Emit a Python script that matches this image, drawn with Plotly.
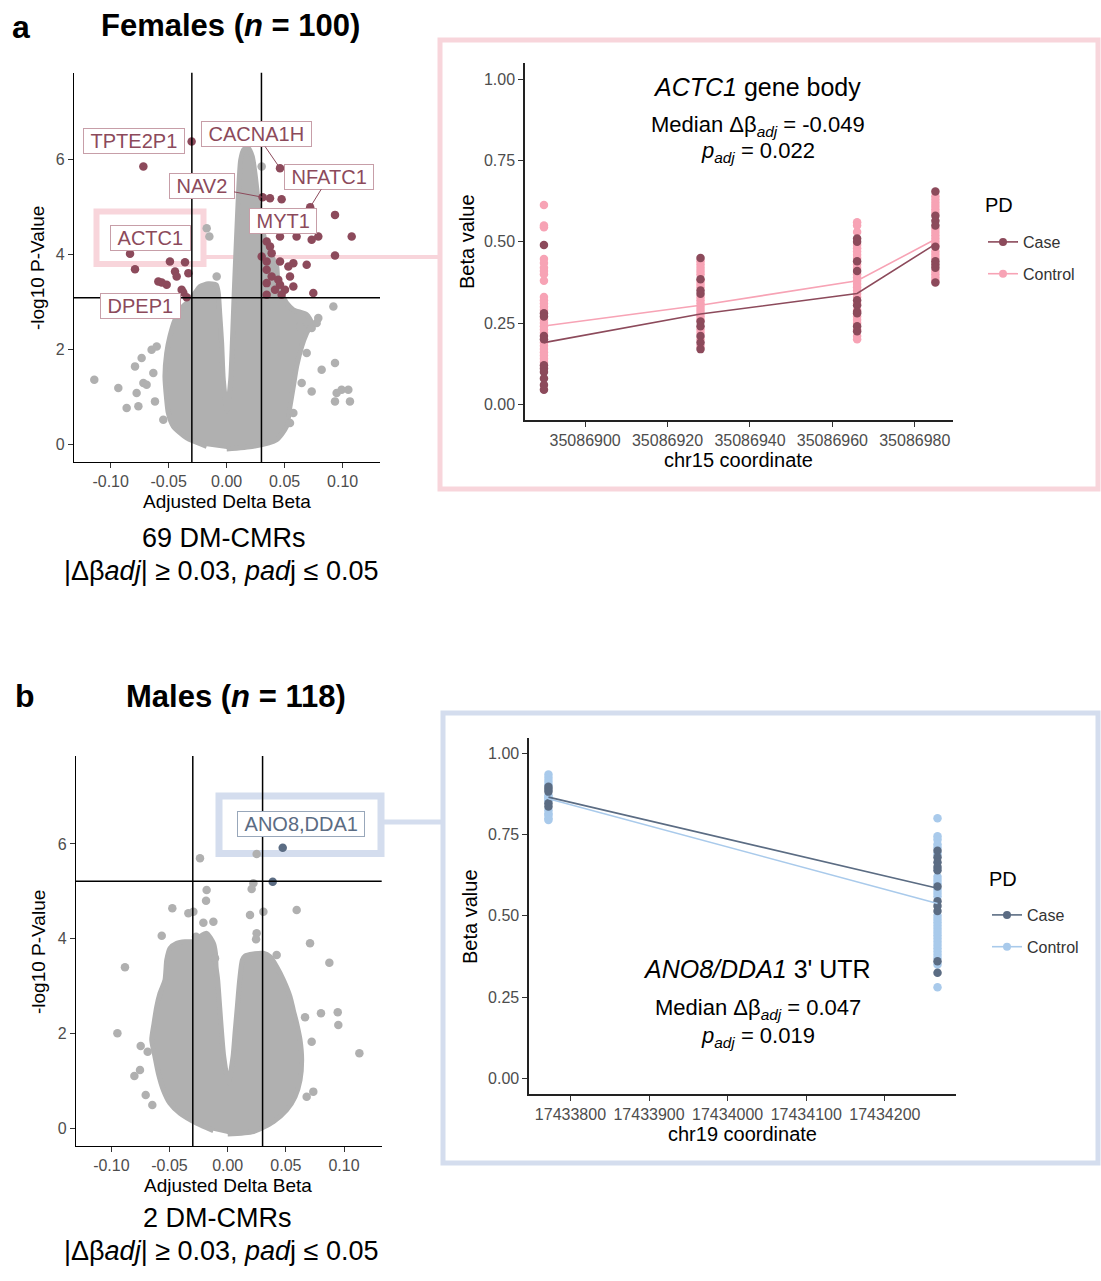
import plotly.graph_objects as go

W, H = 1101, 1281
def px(x): return x / W
def py(y): return 1 - y / H

# ---------------- DATA ----------------
delta_thr = 0.03
fem_p_thr = 3.09
male_p_thr = 5.21

vol_tickvals = [-0.10, -0.05, 0.00, 0.05, 0.10]
vol_ticktext = ["-0.10", "-0.05", "0.00", "0.05", "0.10"]
vol_ytick = [0, 2, 4, 6]
beta_ticks = [0.00, 0.25, 0.50, 0.75, 1.00]
beta_ticktext = ["0.00", "0.25", "0.50", "0.75", "1.00"]

# Females volcano: outline of the dense grey cloud
fem_cloud_x = [0.0, 0.023, 0.0431, 0.0517, 0.0546, 0.0575, 0.0603, 0.0647, 0.069, 0.0733,
               0.069, 0.0575, 0.0517, 0.0489, 0.0445, 0.0431, 0.0345, 0.0316, 0.0287, 0.0264,
               0.0244, 0.0221, 0.0187, 0.0149, 0.0121, 0.0105, 0.0092, 0.0077, 0.0063, 0.0049,
               0.0035, 0.0003, -0.0029, -0.0043, -0.0060, -0.0072, -0.0090, -0.0158, -0.0230,
               -0.0273, -0.0316, -0.0388, -0.0445, -0.0489, -0.0517, -0.0532, -0.0517, -0.0503,
               -0.0460, -0.0345, -0.0172]
fem_cloud_y = [-0.105, -0.049, 0.091, 0.373, 0.795, 1.217, 1.639, 2.061, 2.342, 2.553,
               2.729, 2.834, 2.975, 3.094, 3.256, 3.748, 4.170, 4.451, 4.803, 5.295,
               5.717, 6.069, 6.245, 6.224, 5.999, 5.436, 4.733, 3.889, 3.045, 2.131,
               1.357, 0.700, 1.357, 2.131, 2.764, 3.186, 3.361, 3.383, 3.326,
               3.186, 3.045, 2.869, 2.623, 2.271, 1.920, 1.428, 0.935, 0.654,
               0.373, 0.127, -0.049]
# Females volcano: isolated grey points
fem_grey_x = [-0.1141, -0.0934, -0.0862, -0.0761, -0.0776, -0.0790, -0.0733, -0.0718, -0.0690,
              -0.0632, -0.0618, -0.0647, -0.0603, -0.0546, -0.0868, -0.0713, -0.0172, -0.0149,
              -0.0086, 0.0302, 0.0920, 0.0790, 0.0733, 0.0776, 0.0632, 0.0819, 0.0934, 0.0647,
              0.0733, 0.0948, 0.0991, 0.1049, 0.0934, 0.1063, 0.0690, 0.0546, 0.0575]
fem_grey_y = [1.357, 1.181, 0.759, 0.795, 1.076, 1.639, 1.814, 1.287, 1.252,
              1.498, 0.900, 1.990, 2.061, 0.513, 2.799, 2.750, 4.557, 4.381,
              3.537, 5.858, 2.904, 2.658, 2.447, 2.553, 2.482, 1.568, 1.709, 1.287,
              1.111, 1.076, 1.146, 1.146, 0.900, 0.900, 1.920, 0.443, 0.654]
# Females volcano: DM-CMRs
fem_sig_x = [-0.0302, -0.0718, -0.0833, -0.0790, -0.0489, -0.0359, -0.0445, -0.0431, -0.0330,
             -0.0589, -0.0517, -0.0560, -0.0374, -0.0345, -0.0388, 0.0460, 0.0310, 0.0374,
             0.0474, 0.0934, 0.1078, 0.0934, 0.0345, 0.0374, 0.0388, 0.0345, 0.0460, 0.0532,
             0.0575, 0.0690, 0.0345, 0.0388, 0.0445, 0.0460, 0.0345, 0.0417, 0.0503, 0.0575,
             0.0474, 0.0345, 0.0747, 0.0603, 0.0733, 0.0790, 0.0460, 0.0546, 0.0302, 0.0720]
fem_sig_y = [6.385, 5.858, 4.015, 3.692, 3.854, 3.840, 3.643, 3.537, 3.608,
             3.432, 3.361, 3.411, 3.200, 3.101, 3.256, 5.823, 5.211, 5.190,
             5.169, 4.838, 4.381, 3.980, 4.276, 4.170, 4.030, 3.854, 3.854, 3.748,
             3.819, 3.783, 3.678, 3.537, 3.467, 3.361, 3.397, 3.256, 3.256, 3.326,
             3.150, 3.150, 3.186, 4.381, 4.311, 4.381, 4.381, 3.537, 3.959, 5.000]

# Males volcano: outline of the dense grey cloud
male_cloud_x = [0.0, 0.0221, 0.0393, 0.0507, 0.0579, 0.0622, 0.0636, 0.0622, 0.0593, 0.0564,
                0.0536, 0.0479, 0.0421, 0.0364, 0.0307, 0.0221, 0.0149, 0.0126, 0.0103, 0.0083,
                0.0063, 0.0046, 0.0006, -0.0034, -0.0052, -0.0069, -0.0086, -0.0100, -0.0105,
                -0.0123, -0.0181, -0.0238, -0.0295, -0.0367, -0.0438, -0.0496, -0.0524, -0.0539,
                -0.0582, -0.0610, -0.0633, -0.0653, -0.0625, -0.0596, -0.0553, -0.0496, -0.0410,
                -0.0266, -0.0123]
male_cloud_y = [-0.120, -0.070, 0.141, 0.387, 0.668, 1.020, 1.442, 1.864, 2.215, 2.496,
                2.778, 3.129, 3.411, 3.622, 3.692, 3.678, 3.636, 3.551, 3.129, 2.567,
                2.004, 1.512, 0.950, 1.512, 2.004, 2.567, 3.129, 3.411, 3.692,
                3.903, 4.114, 4.044, 3.938, 3.938, 3.903, 3.797, 3.551, 3.129,
                2.848, 2.567, 2.215, 1.864, 1.512, 1.160, 0.809, 0.527, 0.316,
                0.105, -0.049]
male_grey_x = [-0.0948, -0.0883, -0.0705, -0.0648, -0.0802, -0.0754, -0.0748, -0.0688, -0.0567,
               -0.0476, -0.0338, -0.0295, -0.0238, -0.0181, -0.0186, -0.0209, -0.0123, -0.0272,
               -0.0109, 0.0249, 0.0221, 0.0206, 0.0192, 0.0307, 0.0249, 0.0244, 0.0593, 0.0708,
               0.0874, 0.0421, 0.0665, 0.0802, 0.0946, 0.0951, 0.0722, 0.1132, 0.0736, 0.0679]
male_grey_y = [2.004, 3.397, 0.703, 0.492, 1.104, 1.231, 1.737, 1.617, 4.065,
               4.641, 4.536, 4.571, 5.696, 5.028, 4.803, 4.339, 4.360, 4.044,
               3.586, 5.788, 5.169, 5.049, 4.501, 4.571, 4.114, 3.987, 4.606, 3.903,
               3.495, 3.657, 2.342, 2.426, 2.447, 2.180, 1.828, 1.582, 0.774, 0.668]
male_sig_x = [0.0473, 0.0387]
male_sig_y = [5.92, 5.20]

# ACTC1 gene body (chr15)
fem_pos = [35086890, 35086928, 35086966, 35086985]
fem_case_vals = [
    [0.49, 0.28, 0.27, 0.21, 0.20, 0.12, 0.11, 0.10, 0.08, 0.06, 0.045],
    [0.45, 0.385, 0.35, 0.34, 0.255, 0.24, 0.21, 0.19, 0.17],
    [0.51, 0.50, 0.44, 0.41, 0.32, 0.305, 0.285, 0.28, 0.24, 0.225],
    [0.655, 0.58, 0.565, 0.55, 0.485, 0.44, 0.43, 0.42, 0.375],
]
fem_ctrl_vals = [
    [0.613, 0.55, 0.545, 0.447, 0.435, 0.42, 0.41, 0.40, 0.38, 0.33, 0.32, 0.31, 0.30, 0.29, 0.26,
     0.25, 0.24, 0.23, 0.22, 0.19, 0.18, 0.17, 0.16, 0.15, 0.14, 0.13],
    [0.44, 0.43, 0.42, 0.41, 0.40, 0.38, 0.37, 0.36, 0.33, 0.32, 0.31, 0.30, 0.29, 0.28, 0.27, 0.26,
     0.23, 0.22, 0.20, 0.18],
    [0.56, 0.55, 0.53, 0.49, 0.48, 0.47, 0.46, 0.45, 0.43, 0.42, 0.40, 0.39, 0.38, 0.37, 0.36, 0.35,
     0.34, 0.33, 0.31, 0.29, 0.27, 0.26, 0.25, 0.23, 0.21, 0.20],
    [0.64, 0.63, 0.62, 0.61, 0.60, 0.59, 0.54, 0.53, 0.52, 0.51, 0.50, 0.49, 0.47, 0.46, 0.45,
     0.41, 0.40, 0.39, 0.38],
]
fem_case_med = [0.190, 0.278, 0.341, 0.493]
fem_ctrl_med = [0.241, 0.305, 0.380, 0.508]
fem_xticks = [35086900, 35086920, 35086940, 35086960, 35086980]

# ANO8/DDA1 3' UTR (chr19)
male_pos = [17433772, 17434267]
male_case_vals = [
    [0.897, 0.89, 0.882, 0.846, 0.836],
    [0.70, 0.68, 0.665, 0.65, 0.64, 0.59, 0.545, 0.53, 0.515, 0.36, 0.325],
]
male_ctrl_vals = [
    [0.935, 0.925, 0.915, 0.905, 0.87, 0.865, 0.86, 0.855, 0.825, 0.815, 0.81, 0.80, 0.795],
    [0.80, 0.745, 0.735, 0.72, 0.71, 0.69, 0.62, 0.61, 0.60, 0.58, 0.57, 0.56, 0.50, 0.49, 0.48,
     0.47, 0.46, 0.45, 0.44, 0.43, 0.42, 0.41, 0.40, 0.39, 0.38, 0.37, 0.35, 0.28],
]
male_case_med = [0.865, 0.585]
male_ctrl_med = [0.860, 0.538]
male_xticks = [17433800, 17433900, 17434000, 17434100, 17434200]

groups = ["Case", "Control"]

# ---------------- STYLE ----------------
FONT = "Liberation Sans, Arial, Helvetica, sans-serif"
F_CASE, F_CTRL = "#8C4A5B", "#F7A3B5"
M_CASE, M_CTRL = "#5B6C83", "#A9CAEB"
GREY = "#B0B0B0"
PINK_FR, BLUE_FR = "#F8D5DB", "#D4DDEE"

fig = go.Figure()

def flat(pos, vals):
    xs, ys = [], []
    for p, vs in zip(pos, vals):
        xs += [p] * len(vs)
        ys += vs
    return xs, ys

# volcano a
fig.add_trace(go.Scatter(x=fem_cloud_x, y=fem_cloud_y, mode="lines", fill="toself",
                         fillcolor=GREY, line=dict(color=GREY, width=5, shape="spline", smoothing=0.6),
                         showlegend=False, xaxis="x", yaxis="y", hoverinfo="skip"))
fig.add_trace(go.Scatter(x=fem_grey_x, y=fem_grey_y, mode="markers",
                         marker=dict(color=GREY, size=8.5), showlegend=False, xaxis="x", yaxis="y"))
fig.add_trace(go.Scatter(x=fem_sig_x, y=fem_sig_y, mode="markers",
                         marker=dict(color=F_CASE, size=8.5), showlegend=False, xaxis="x", yaxis="y"))
# volcano b
fig.add_trace(go.Scatter(x=male_cloud_x, y=male_cloud_y, mode="lines", fill="toself",
                         fillcolor=GREY, line=dict(color=GREY, width=5, shape="spline", smoothing=0.6),
                         showlegend=False, xaxis="x3", yaxis="y3", hoverinfo="skip"))
fig.add_trace(go.Scatter(x=male_grey_x, y=male_grey_y, mode="markers",
                         marker=dict(color=GREY, size=8.5), showlegend=False, xaxis="x3", yaxis="y3"))
fig.add_trace(go.Scatter(x=male_sig_x, y=male_sig_y, mode="markers",
                         marker=dict(color=M_CASE, size=8.5), showlegend=False, xaxis="x3", yaxis="y3"))

# inset a
for vals, col in [(fem_ctrl_vals, F_CTRL), (fem_case_vals, F_CASE)]:
    xs, ys = flat(fem_pos, vals)
    fig.add_trace(go.Scatter(x=xs, y=ys, mode="markers", marker=dict(color=col, size=8.5),
                             showlegend=False, xaxis="x2", yaxis="y2"))
for med, col in [(fem_ctrl_med, F_CTRL), (fem_case_med, F_CASE)]:
    fig.add_trace(go.Scatter(x=fem_pos, y=med, mode="lines", line=dict(color=col, width=1.6),
                             showlegend=False, xaxis="x2", yaxis="y2"))
for g, col in zip(groups, [F_CASE, F_CTRL]):
    fig.add_trace(go.Scatter(x=[None], y=[None], mode="lines+markers", name=g,
                             line=dict(color=col, width=1.6), marker=dict(color=col, size=8),
                             legend="legend", legendgroup="f" + g, xaxis="x2", yaxis="y2"))
# inset b
for vals, col in [(male_ctrl_vals, M_CTRL), (male_case_vals, M_CASE)]:
    xs, ys = flat(male_pos, vals)
    fig.add_trace(go.Scatter(x=xs, y=ys, mode="markers", marker=dict(color=col, size=8.5),
                             showlegend=False, xaxis="x4", yaxis="y4"))
for med, col in [(male_ctrl_med, M_CTRL), (male_case_med, M_CASE)]:
    fig.add_trace(go.Scatter(x=male_pos, y=med, mode="lines", line=dict(color=col, width=1.6),
                             showlegend=False, xaxis="x4", yaxis="y4"))
for g, col in zip(groups, [M_CASE, M_CTRL]):
    fig.add_trace(go.Scatter(x=[None], y=[None], mode="lines+markers", name=g,
                             line=dict(color=col, width=1.6), marker=dict(color=col, size=8),
                             legend="legend2", legendgroup="m" + g, xaxis="x4", yaxis="y4"))

def ax_style(lw, lc, **kw):
    d = dict(showline=True, linecolor=lc, linewidth=lw, ticks="outside", ticklen=5,
             tickwidth=1.1, tickcolor="#333333", showgrid=False, zeroline=False,
             tickfont=dict(size=16, color="#4D4D4D", family=FONT))
    d.update(kw)
    return d

layout = dict(
    width=W, height=H, autosize=False,
    margin=dict(l=0, r=0, t=0, b=0),
    paper_bgcolor="white", plot_bgcolor="rgba(0,0,0,0)",
    font=dict(family=FONT, color="black"),
    xaxis=ax_style(1.2, "black", domain=[px(74), px(380)], range=[-0.1316, 0.1322], anchor="y",
                   tickvals=vol_tickvals, ticktext=vol_ticktext),
    yaxis=ax_style(1.2, "black", domain=[py(462), py(72.7)], range=[-0.38, 7.84], anchor="x",
                   tickvals=vol_ytick),
    xaxis2=ax_style(1.5, "#222222", domain=[px(525), px(952.7)], range=[35086885.4, 35086989.2],
                    anchor="y2", tickvals=fem_xticks, ticktext=[str(v) for v in fem_xticks]),
    yaxis2=ax_style(1.5, "#222222", domain=[py(420), py(63.3)], range=[-0.048, 1.049], anchor="x2",
                    tickvals=beta_ticks, ticktext=beta_ticktext),
    xaxis3=ax_style(1.2, "black", domain=[px(76), px(381.7)], range=[-0.1304, 0.1324], anchor="y3",
                    tickvals=vol_tickvals, ticktext=vol_ticktext),
    yaxis3=ax_style(1.2, "black", domain=[py(1146), py(756)], range=[-0.373, 7.855], anchor="x3",
                    tickvals=vol_ytick),
    xaxis4=ax_style(1.5, "#222222", domain=[px(529.2), px(955.6)], range=[17433747.5, 17434290],
                    anchor="y4", tickvals=male_xticks, ticktext=[str(v) for v in male_xticks]),
    yaxis4=ax_style(1.5, "#222222", domain=[py(1094), py(738.3)], range=[-0.048, 1.046], anchor="x4",
                    tickvals=beta_ticks, ticktext=beta_ticktext),
    legend=dict(x=px(983), y=py(225), xanchor="left", yanchor="top",
                font=dict(size=16, color="#333333"), bgcolor="rgba(0,0,0,0)",
                traceorder="grouped", tracegroupgap=8, itemwidth=30),
    legend2=dict(x=px(987), y=py(898), xanchor="left", yanchor="top",
                 font=dict(size=16, color="#333333"), bgcolor="rgba(0,0,0,0)",
                 traceorder="grouped", tracegroupgap=8, itemwidth=30),
)
fig.update_layout(**layout)

# ---------------- SHAPES ----------------
shapes = []
def prect(x0, y0, x1, y1, col, w, layer="below"):
    shapes.append(dict(type="rect", xref="paper", yref="paper", x0=px(x0), x1=px(x1),
                       y0=py(y1), y1=py(y0), line=dict(color=col, width=w), layer=layer))
def pline(x0, y0, x1, y1, col, w, layer="below"):
    shapes.append(dict(type="line", xref="paper", yref="paper", x0=px(x0), x1=px(x1),
                       y0=py(y0), y1=py(y1), line=dict(color=col, width=w), layer=layer))

prect(440, 40, 1098, 489, PINK_FR, 5)
prect(443, 713, 1098, 1163, BLUE_FR, 5)
prect(96.5, 211.5, 203.5, 264, PINK_FR, 6)
pline(203.5, 257, 440, 257, PINK_FR, 4)
prect(219, 796, 381, 853.5, BLUE_FR, 7)
pline(381, 822, 443, 822, BLUE_FR, 5)

# threshold lines (data coordinates)
for xa, ya, pthr in [("x", "y", fem_p_thr), ("x3", "y3", male_p_thr)]:
    for v in (-delta_thr, delta_thr):
        shapes.append(dict(type="line", xref=xa, yref=ya + " domain", x0=v, x1=v, y0=0, y1=1,
                           line=dict(color="black", width=1.5), layer="above"))
    shapes.append(dict(type="line", xref=xa + " domain", yref=ya, x0=0, x1=1, y0=pthr, y1=pthr,
                       line=dict(color="black", width=1.5), layer="above"))
fig.update_layout(shapes=shapes)

# ---------------- ANNOTATIONS ----------------
anns = []
def txt(text, cx, cy, size, color="black", angle=0, bold=False, xanchor="center"):
    anns.append(dict(text=("<b>%s</b>" % text) if bold else text, x=px(cx), y=py(cy),
                     xref="paper", yref="paper", xanchor=xanchor, yanchor="middle",
                     showarrow=False, textangle=angle, font=dict(size=size, color=color, family=FONT)))

txt("a", 21, 27, 32, bold=True)
txt("Females (<i>n</i> = 100)", 230, 25, 31, bold=True)
txt("b", 25, 696, 32, bold=True)
txt("Males (<i>n</i> = 118)", 236, 696, 31, bold=True)

txt("69 DM-CMRs", 224, 538, 27)
txt("|Δβ<i>adj</i>| ≥ 0.03, <i>pad</i>j ≤ 0.05", 221, 571, 27)
txt("2 DM-CMRs", 217, 1218, 27)
txt("|Δβ<i>adj</i>| ≥ 0.03, <i>pad</i>j ≤ 0.05", 221, 1251, 27)

txt("Adjusted Delta Beta", 226.5, 501, 19)
txt("-log10 P-Value", 37, 268, 19, angle=-90)
txt("Adjusted Delta Beta", 227.5, 1185, 19)
txt("-log10 P-Value", 38, 952, 19, angle=-90)

txt("<i>ACTC1</i> gene body", 757, 87, 25)
txt("Median Δβ<sub><i>adj</i></sub> = -0.049", 758, 126, 22)
txt("<i>p</i><sub><i>adj</i></sub> = 0.022", 758, 152, 22)
txt("Beta value", 467, 242, 20, angle=-90)
txt("chr15 coordinate", 738, 460, 20)
txt("PD", 983, 205, 20, xanchor="left")

txt("<i>ANO8/DDA1</i> 3' UTR", 757, 969, 25)
txt("Median Δβ<sub><i>adj</i></sub> = 0.047", 758, 1009, 22)
txt("<i>p</i><sub><i>adj</i></sub> = 0.019", 758, 1037, 22)
txt("Beta value", 470, 917, 20, angle=-90)
txt("chr19 coordinate", 742, 1134, 20)
txt("PD", 987, 879, 20, xanchor="left")

F_LAB, F_LAB_BD = "#8C4A5B", "#C79EA8"
M_LAB, M_LAB_BD = "#5B6C83", "#98A7BA"
NB = "\u00a0"

def label(text, cx, cy, col, bd):
    anns.append(dict(text=NB + text + NB, x=px(cx), y=py(cy), xref="paper", yref="paper",
                     xanchor="center", yanchor="middle", showarrow=False,
                     borderpad=1, bordercolor=bd, borderwidth=1, bgcolor="white",
                     font=dict(size=20, color=col, family=FONT)))

def label_arrow(text, xa, ya, x, y, dx, dy, col, bd):
    anns.append(dict(text=NB + text + NB, x=x, y=y, xref=xa, yref=ya, ax=dx, ay=dy, showarrow=True,
                     arrowhead=0, arrowwidth=1, arrowcolor=col, standoff=0,
                     borderpad=1, bordercolor=bd, borderwidth=1, bgcolor="white",
                     font=dict(size=20, color=col, family=FONT)))

label("TPTE2P1", 133.8, 140.5, F_LAB, F_LAB_BD)
label_arrow("CACNA1H", "x", "y", 0.0460, 5.823, -23.5, -34.2, F_LAB, F_LAB_BD)
label_arrow("NAV2", "x", "y", 0.0310, 5.211, -61.1, -11.4, F_LAB, F_LAB_BD)
label_arrow("NFATC1", "x", "y", 0.0720, 5.000, 18.8, -30.5, F_LAB, F_LAB_BD)
label("MYT1", 283, 220.8, F_LAB, F_LAB_BD)
label("ACTC1", 150.8, 238, F_LAB, F_LAB_BD)
label("DPEP1", 140, 305.8, F_LAB, F_LAB_BD)
label("ANO8,DDA1", 300.8, 824, M_LAB, M_LAB_BD)

fig.update_layout(annotations=anns)
fig.write_html("out.html")
